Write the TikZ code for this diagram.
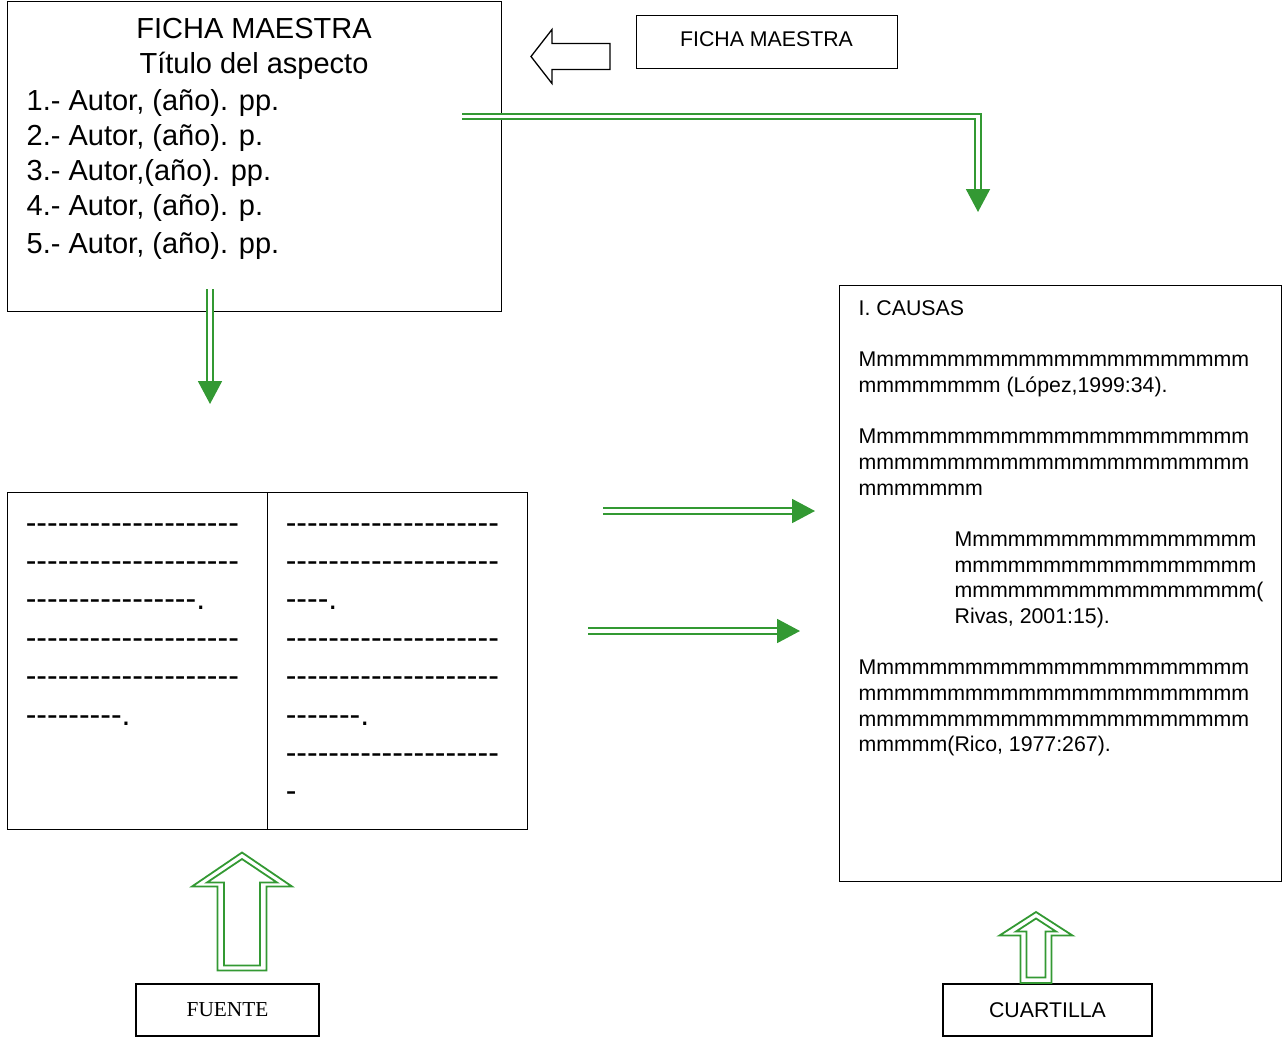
\documentclass[tikz,border=0pt]{standalone}
\usepackage{fontspec}
\setmainfont{Liberation Sans}
\newfontfamily\timesfont{Liberation Serif}
\newfontfamily\dashfont{Liberation Sans}[Ligatures=TeXOff]
\usetikzlibrary{positioning,arrows.meta}
\tikzset{>=latex}
\definecolor{mygreen}{RGB}{51,153,51}
\tikzstyle{box}=[draw=black,line width=1.4pt,inner sep=0pt,anchor=north west]

\begin{document}
\begin{tikzpicture}[x=1pt,y=-1pt,
  txt/.style={inner sep=0pt,anchor=base west,align=left},
  big/.style={font=\fontsize{29}{35}\selectfont},
  normal/.style={font=\fontsize{21.3}{25.65}\selectfont},
  link/.style={draw=mygreen,double,line width=1.9pt,double distance=3.4pt,
               -{Triangle[length=23pt,width=24pt,fill=mygreen]}},
  hollow/.style={draw=mygreen,line width=1.8pt,line join=miter}
]
\useasboundingbox (0,0) rectangle (1282,1038);

% ficha maestra (anchors sit on the last line)
\node[box,minimum width=494pt,minimum height=310pt] (ficha) at (7,1) {};
\node[big,inner sep=0pt,anchor=base,align=center] (fichatit) at (254,74)
  {FICHA MAESTRA\\Título del aspecto};
\node[txt,big] (autores) at (26.5,253)
  {1.- Autor, (año). pp.\\2.- Autor, (año). p.\\3.- Autor,(año). pp.\\
   4.- Autor, (año). p.\\[3pt]5.- Autor, (año). pp.};

% label top right
\node[box,minimum width=261pt,minimum height=53pt] (fichalab) at (636,15) {};
\node[normal,inner sep=0pt,anchor=base] at (766.5,47) {FICHA MAESTRA};
\draw[line width=1.3pt] (531,56.5) -- (552,29.5) -- (552,43.5) -- (610,43.5)
  -- (610,69.5) -- (552,69.5) -- (552,83.5) -- cycle;

% fuente
\node[box,minimum width=520pt,minimum height=337pt] (fuente) at (7,492) {};
\draw[line width=1.4pt] (fuente.north) -- (fuente.south);
\node[txt,font=\dashfont\fontsize{32}{38.4}\selectfont] (colizq) at (25.6,725)
  {--------------------\\--------------------\\----------------.\\
   --------------------\\--------------------\\---------.};
\node[txt,font=\dashfont\fontsize{32}{38.4}\selectfont] (colder) at (285.6,801.8)
  {--------------------\\--------------------\\----.\\
   --------------------\\--------------------\\-------.\\
   --------------------\\-};

% cuartilla
\node[box,minimum width=442pt,minimum height=596pt] (causas) at (839,285) {};
\node[txt,normal] (titulo) at (858.5,315.7) {I. CAUSAS};
\node[txt,normal] (par1) at (858.5,392.6) {Mmmmmmmmmmmmmmmmmmmmmm\\mmmmmmmm (López,1999:34).};
\node[txt,normal] (par2) at (858.5,495.25)
  {Mmmmmmmmmmmmmmmmmmmmmm\\mmmmmmmmmmmmmmmmmmmmmm\\mmmmmmm};
\node[txt,normal] (cita) at (954.5,623.5)
  {Mmmmmmmmmmmmmmmmm\\mmmmmmmmmmmmmmmmm\\mmmmmmmmmmmmmmmmm(\\Rivas, 2001:15).};
\node[txt,normal] (par3) at (858.5,751.75)
  {Mmmmmmmmmmmmmmmmmmmmmm\\mmmmmmmmmmmmmmmmmmmmmm\\mmmmmmmmmmmmmmmmmmmmmm\\mmmmm(Rico, 1977:267).};

% bottom labels
\node[box,anchor=center,minimum width=183pt,minimum height=52pt,
  font=\timesfont\fontsize{21.3}{25}\selectfont] (fuentelab) at (227.5,1010) {FUENTE};
\node[box,normal,anchor=center,minimum width=209pt,minimum height=52pt]
  (cuartlab) at (1047.5,1010) {CUARTILLA};

% hollow arrows
\draw[hollow] (242,852.5) -- (292,886.5) -- (266.5,886.5) -- (266.5,970.5)
  -- (217.5,970.5) -- (217.5,886.5) -- (192,886.5) -- cycle;
\draw[hollow] (242,859) -- (277,882.5) -- (260,882.5) -- (260,965.5)
  -- (224,965.5) -- (224,882.5) -- (207,882.5) -- cycle;
\draw[hollow] (1036,912) -- (1072.5,935.5) -- (1051.5,935.5) -- (1051.5,983)
  -- (1020.5,983) -- (1020.5,935.5) -- (999.5,935.5) -- cycle;
\draw[hollow] (1036,918.5) -- (1056,931.5) -- (1045.5,931.5) -- (1045.5,977.5)
  -- (1026.5,977.5) -- (1026.5,931.5) -- (1016,931.5) -- cycle;

% green connectors
\coordinate (c1) at (462,116.5);
\coordinate (c2) at (978,212);
\coordinate (d1) at (210,289);
\coordinate (d2) at (210,404);
\coordinate (e1) at (603,511);
\coordinate (e2) at (815,511);
\coordinate (f1) at (588,631);
\coordinate (f2) at (800,631);
\draw[link] (c1) -| (c2);
\draw[link] (d1) -- (d2);
\draw[link] (e1) -- (e2);
\draw[link] (f1) -- (f2);
\end{tikzpicture}
\end{document}
